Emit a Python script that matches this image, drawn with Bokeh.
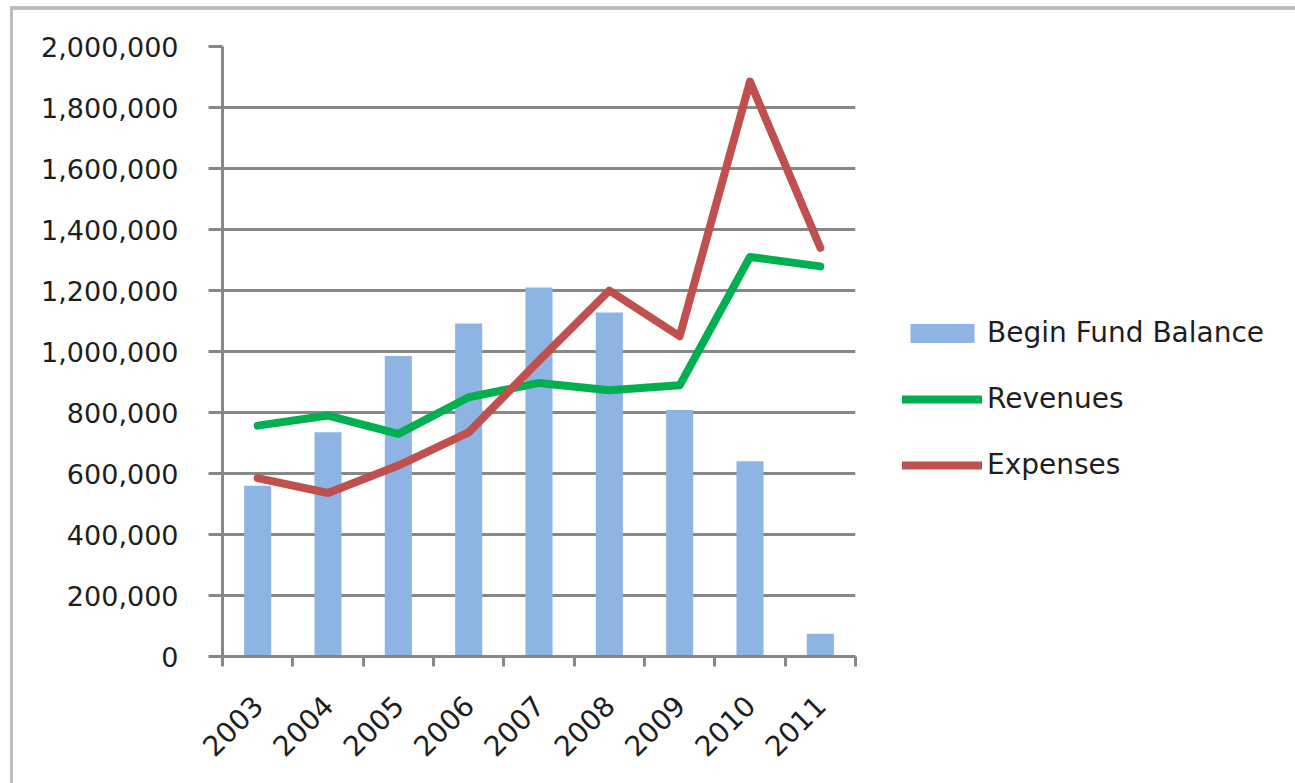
from math import pi
from bokeh.plotting import figure
from bokeh.models import (Range1d, LinearAxis, FixedTicker, NumeralTickFormatter,
                          Legend, LegendItem)
from bokeh.embed import file_html
from bokeh.resources import INLINE

years = ["2003", "2004", "2005", "2006", "2007", "2008", "2009", "2010", "2011"]
balance = [560000, 735000, 985000, 1092000, 1210000, 1128000, 808000, 640000, 75000]
revenues = [757000, 790000, 730000, 850000, 897000, 873000, 889000, 1310000, 1279000]
expenses = [585000, 536000, 626000, 735000, 970000, 1200000, 1050000, 1885000, 1340000]
y_ticks = [0, 200000, 400000, 600000, 800000, 1000000, 1200000, 1400000,
           1600000, 1800000, 2000000]

n = len(years)
pos = [i + 0.5 for i in range(n)]
bounds = list(range(n + 1))

GRID = "#878787"
TXT = "#1e1e1e"
FONT = "DejaVu Sans"

p = figure(frame_width=633, frame_height=610, output_backend="svg", toolbar_location=None,
           x_range=Range1d(0, n), y_range=Range1d(0, 2000000),
           min_border_left=209, min_border_top=36, min_border_bottom=127,
           min_border_right=0, outline_line_color=None)
p.styles = {"border-top": "4px solid #bdbdbd", "border-left": "3px solid #bdbdbd",
            "margin-top": "6px", "margin-left": "10px"}

# grid
p.xgrid.visible = False
p.ygrid.ticker = FixedTicker(ticks=y_ticks)
p.ygrid.grid_line_color = GRID
p.ygrid.grid_line_width = 3

# y axis
ya = p.yaxis[0]
ya.ticker = FixedTicker(ticks=y_ticks)
ya.formatter = NumeralTickFormatter(format="0,0")
ya.axis_line_color = GRID
ya.axis_line_width = 3
ya.major_tick_line_color = GRID
ya.major_tick_line_width = 3
ya.major_tick_in = 0
ya.major_tick_out = 14
ya.minor_tick_line_color = None
ya.major_label_standoff = 30
ya.major_label_text_font = FONT
ya.major_label_text_font_size = "27px"
ya.major_label_text_color = TXT

# x axis: ticks at category boundaries
xa = p.xaxis[0]
xa.ticker = FixedTicker(ticks=bounds)
xa.major_label_overrides = {b: "" for b in bounds}
xa.major_label_text_font_size = "0px"
xa.major_label_standoff = 0
xa.axis_line_color = GRID
xa.axis_line_width = 3
xa.major_tick_line_color = GRID
xa.major_tick_line_width = 3
xa.major_tick_in = 0
xa.major_tick_out = 10
xa.minor_tick_line_color = None

# x labels at category centers
lab = LinearAxis(ticker=FixedTicker(ticks=pos),
                 major_label_overrides={pos[i]: years[i] for i in range(n)},
                 axis_line_color=None, major_tick_line_color=None,
                 minor_tick_line_color=None, major_label_orientation=pi / 4,
                 major_label_standoff=28, major_label_text_font=FONT,
                 major_label_text_font_size="28px", major_label_text_color=TXT)
p.add_layout(lab, "below")

rb = p.vbar(x=pos, top=balance, width=0.385, fill_color="#8EB4E3", line_color=None)
rr = p.line(x=pos, y=revenues, line_color="#00B050", line_width=8,
            line_join="round", line_cap="round")
re_ = p.line(x=pos, y=expenses, line_color="#C0504D", line_width=8,
             line_join="round", line_cap="round")

legend = Legend(items=[LegendItem(label="Begin Fund Balance", renderers=[rb]),
                       LegendItem(label="Revenues", renderers=[rr]),
                       LegendItem(label="Expenses", renderers=[re_])],
                location=(47, 175), orientation="vertical",
                glyph_width=80, glyph_height=24, label_height=24,
                label_standoff=5, spacing=33, padding=38, margin=0,
                border_line_color=None, background_fill_alpha=0,
                label_text_font=FONT, label_text_font_size="28px",
                label_text_color=TXT)
p.add_layout(legend, "right")

open("out.html", "w").write(file_html(p, INLINE))
